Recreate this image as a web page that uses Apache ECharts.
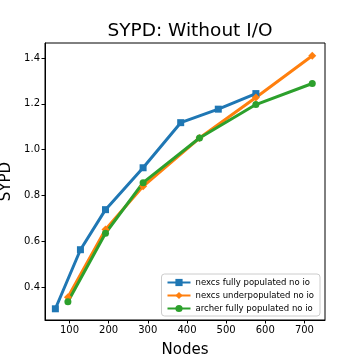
<!DOCTYPE html>
<html><head><meta charset="utf-8">
<script src="https://cdn.jsdelivr.net/npm/echarts@6/dist/echarts.min.js"></script>
<style>html,body{margin:0;padding:0;background:#fff}#c{width:360px;height:360px}</style>
</head><body><div id="c"></div>
<script>
const blueX = [64, 128, 192, 288, 384, 480, 576];
const blueY = [0.305, 0.563, 0.738, 0.921, 1.118, 1.177, 1.245];
const orangeX = [96, 192, 288, 432, 576, 720];
const orangeY = [0.355, 0.651, 0.840, 1.051, 1.228, 1.410];
const greenX = [96, 192, 288, 432, 576, 720];
const greenY = [0.336, 0.635, 0.856, 1.051, 1.197, 1.289];
const xTicks = [100, 200, 300, 400, 500, 600, 700];
const yTicks = [0.4, 0.6, 0.8, 1.0, 1.2, 1.4];
const names = ['nexcs fully populated no io', 'nexcs underpopulated no io', 'archer fully populated no io'];

const font = 'DejaVu Sans';
const zip = (xs, ys) => xs.map((x, i) => [x, ys[i]]);
const chart = echarts.init(document.getElementById('c'));
const mk = (name, data, color, symbol, size) => ({
  name, type: 'line', data, symbol, symbolSize: size,
  lineStyle: {color, width: 3}, itemStyle: {color}, animation: false
});
chart.setOption({
  animation: false,
  title: {text: 'SYPD: Without I/O', left: 185, top: 17, textAlign: 'center',
    textStyle: {fontFamily: font, fontSize: 18.5, fontWeight: 'normal', color: '#000'}},
  grid: {left: 45, right: 35, top: 43, bottom: 40, outerBoundsMode: 'none', containLabel: false,
    show: true, borderColor: '#000', borderWidth: 1, backgroundColor: 'transparent'},
  legend: {
    right: 40, bottom: 44, orient: 'vertical', itemGap: 4, itemWidth: 23, itemHeight: 9,
    backgroundColor: '#fff', borderColor: '#ccc', borderWidth: 1, borderRadius: 3, padding: [4, 6, 3, 5],
    textStyle: {fontFamily: font, fontSize: 8.5, color: '#000'},
    data: names
  },
  xAxis: {
    type: 'value', min: 37.5, max: 752.5,
    name: 'Nodes', nameLocation: 'middle', nameGap: 23,
    nameTextStyle: {fontFamily: font, fontSize: 15, color: '#000'},
    splitLine: {show: false},
    axisLine: {onZero: false, lineStyle: {color: '#000', width: 1}},
    axisTick: {customValues: xTicks, length: 3.5, lineStyle: {color: '#000'}},
    axisLabel: {customValues: xTicks, fontFamily: font, fontSize: 10, color: '#000', margin: 5}
  },
  yAxis: {
    type: 'value', min: 0.256, max: 1.466,
    name: 'SYPD', nameLocation: 'middle', nameGap: 27,
    nameTextStyle: {fontFamily: font, fontSize: 15, color: '#000'},
    splitLine: {show: false},
    axisLine: {show: true, onZero: false, lineStyle: {color: '#000', width: 1}},
    axisTick: {show: true, customValues: yTicks, length: 3.5, lineStyle: {color: '#000'}},
    axisLabel: {customValues: yTicks, fontFamily: font, fontSize: 10, color: '#000', margin: 5,
      formatter: v => v.toFixed(1)}
  },
  series: [
    mk(names[0], zip(blueX, blueY), '#1f77b4', 'rect', 7),
    mk(names[1], zip(orangeX, orangeY), '#ff7f0e', 'diamond', 8),
    mk(names[2], zip(greenX, greenY), '#2ca02c', 'circle', 7)
  ]
});
</script></body></html>
